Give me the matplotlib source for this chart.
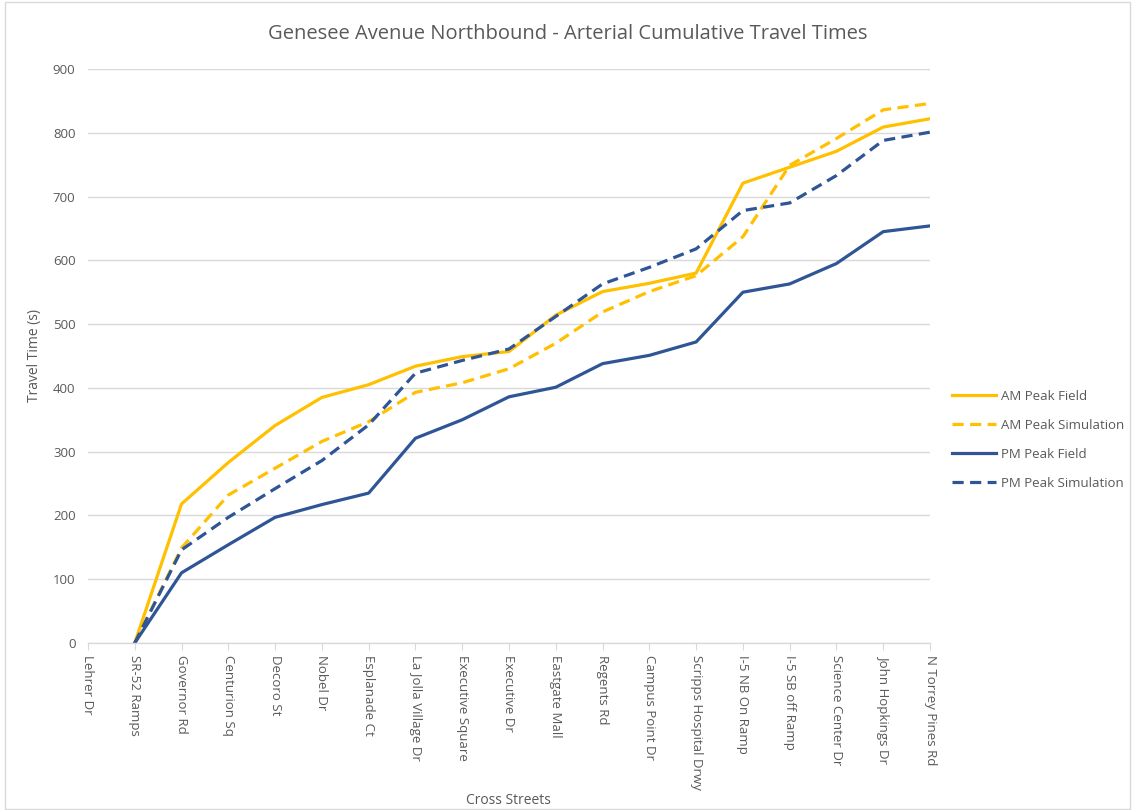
import numpy as np
import matplotlib.pyplot as plt
from matplotlib.patches import Rectangle

# Cross streets along Genesee Ave, northbound order
streets = ["Lehrer Dr", "SR-52 Ramps", "Governor Rd", "Centurion Sq", "Decoro St",
           "Nobel Dr", "Esplanade Ct", "La Jolla Village Dr", "Executive Square",
           "Executive Dr", "Eastgate Mall", "Regents Rd", "Campus Point Dr",
           "Scripps Hospital Drwy", "I-5 NB On Ramp", "I-5 SB off Ramp",
           "Science Center Dr", "John Hopkings Dr", "N Torrey Pines Rd"]

# cumulative travel times (s); no value at Lehrer Dr
am_field = [np.nan, 0, 218, 283, 341, 385, 405, 434, 449, 457, 514, 551, 564,
            580, 721, 746, 771, 809, 822]
am_sim = [np.nan, 0, 149, 232, 274, 316, 347, 393, 408, 430, 470, 519, 551,
          576, 637, 749, 791, 836, 846]
pm_field = [np.nan, 0, 110, 154, 197, 217, 235, 321, 350, 386, 401, 438, 451,
            472, 550, 563, 595, 645, 654]
pm_sim = [np.nan, 0, 146, 197, 242, 286, 342, 423, 443, 461, 512, 563, 589,
          618, 678, 690, 733, 788, 801]

yellow = "#FFC000"
blue = "#2F5597"
txt = "#595959"

plt.rcParams["font.family"] = ["Open Sans", "DejaVu Sans"]

fig = plt.figure(figsize=(11.35, 8.1), dpi=100)
ax = fig.add_axes([0.0775, 0.2062, 0.7419, 0.7086])

x = np.arange(len(streets))
lw = 2.3
ax.plot(x, am_field, color=yellow, lw=lw, label="AM Peak Field")
ax.plot(x, am_sim, color=yellow, lw=lw, ls=(0, (3.5, 2)), label="AM Peak Simulation")
ax.plot(x, pm_field, color=blue, lw=lw, label="PM Peak Field")
ax.plot(x, pm_sim, color=blue, lw=lw, ls=(0, (3.5, 2)), label="PM Peak Simulation")

ax.set_xlim(0, len(streets) - 1)
ax.set_ylim(0, 900)
ax.set_yticks(range(0, 901, 100))
ax.set_xticks(x)
ax.set_xticklabels(streets, rotation=-90, fontsize=9.5, color=txt)
ax.tick_params(axis="y", length=0, labelsize=9.5, labelcolor=txt, pad=9)
ax.tick_params(axis="x", length=5, color="#D9D9D9", pad=4)

ax.grid(axis="y", color="#D9D9D9", lw=1)
ax.set_axisbelow(True)
for s in ["top", "right", "left"]:
    ax.spines[s].set_visible(False)
ax.spines["bottom"].set_color("#D9D9D9")
ax.spines["bottom"].set_linewidth(1)

fig.text(0.5, 0.958, "Genesee Avenue Northbound - Arterial Cumulative Travel Times",
         fontsize=14.5, color=txt, ha="center", va="center")
ax.set_ylabel("Travel Time (s)", fontsize=10, color=txt, labelpad=8)
fig.text(0.4476, 0.007, "Cross Streets", fontsize=10, color=txt, ha="center")

ax.legend(loc="center left", bbox_to_anchor=(1.012, 0.354), frameon=False,
          fontsize=9.5, labelcolor=txt, handlelength=3.3, handletextpad=0.4,
          labelspacing=1.2)

# chart area border
fig.patches.append(Rectangle((0.004, 0.001), 0.992, 0.997, transform=fig.transFigure,
                             fill=False, edgecolor="#D9D9D9", lw=1))

fig.savefig("out.png", dpi=100)
